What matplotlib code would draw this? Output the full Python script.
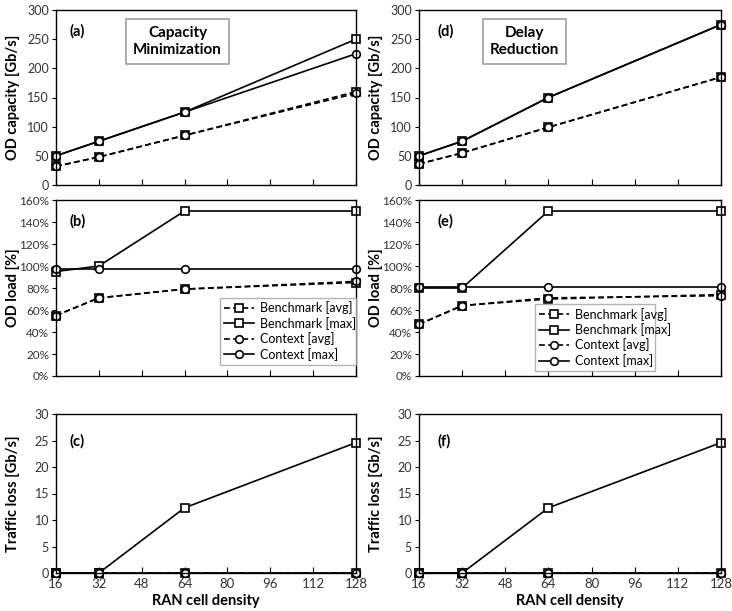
import numpy as np
import matplotlib
matplotlib.use("Agg")
import matplotlib.pyplot as plt
from matplotlib.ticker import FuncFormatter

plt.rcParams['font.family'] = ['Lato', 'DejaVu Sans']

density = [16, 32, 64, 128]
series_names = ["Benchmark [avg]", "Benchmark [max]", "Context [avg]", "Context [max]"]

# capacity minimization
cap_a = {
    "Benchmark [avg]": [32, 48, 85, 160],
    "Benchmark [max]": [50, 75, 125, 250],
    "Context [avg]": [32, 48, 85, 157],
    "Context [max]": [50, 75, 125, 225],
}
load_b = {
    "Benchmark [avg]": [55, 71, 79, 85],
    "Benchmark [max]": [95, 100, 150, 150],
    "Context [avg]": [55, 71, 79, 86],
    "Context [max]": [97, 97, 97, 97],
}
loss_c = {
    "Benchmark [avg]": [0, 0, 0, 0],
    "Benchmark [max]": [0, 0, 12.3, 24.6],
    "Context [avg]": [0, 0, 0, 0],
    "Context [max]": [0, 0, 0, 0],
}

# delay reduction
cap_d = {
    "Benchmark [avg]": [36, 55, 99, 185],
    "Benchmark [max]": [50, 75, 150, 275],
    "Context [avg]": [36, 55, 99, 185],
    "Context [max]": [50, 75, 150, 275],
}
load_e = {
    "Benchmark [avg]": [47, 64, 70, 74],
    "Benchmark [max]": [80, 80, 150, 150],
    "Context [avg]": [47, 64, 71, 73],
    "Context [max]": [81, 81, 81, 81],
}
loss_f = {
    "Benchmark [avg]": [0, 0, 0, 0],
    "Benchmark [max]": [0, 0, 12.3, 24.6],
    "Context [avg]": [0, 0, 0, 0],
    "Context [max]": [0, 0, 0, 0],
}

styles = {
    "Benchmark [avg]": dict(ls=(0, (3.5, 2)), marker="s"),
    "Benchmark [max]": dict(ls="-", marker="s"),
    "Context [avg]": dict(ls=(0, (3.5, 2)), marker="o"),
    "Context [max]": dict(ls="-", marker="o"),
}

fig = plt.figure(figsize=(7.32, 6.11), dpi=100)

W, H = 732.0, 611.0
def box(x0, x1, ytop, ybot):
    return [x0 / W, 1 - ybot / H, (x1 - x0) / W, (ybot - ytop) / H]

cols = [(56, 356), (419, 721)]
rows = [(10, 185), (200, 376), (414, 573)]

panels = [[cap_a, load_b, loss_c], [cap_d, load_e, loss_f]]
letters = [["(a)", "(b)", "(c)"], ["(d)", "(e)", "(f)"]]
ylims = [(0, 300), (0, 160), (0, 30)]
yticks = [np.arange(0, 301, 50), np.arange(0, 161, 20), np.arange(0, 31, 5)]
ylabels = ["OD capacity [Gb/s]", "OD load [%]", "Traffic loss [Gb/s]"]
titles = ["Capacity\nMinimization", "Delay\nReduction"]
title_x = [0.405, 0.35]
leg_anchor = [(0.547, 0.05, 0.453, 0.41), (0.384, 0.07, 0.397, 0.30)]

for c in range(2):
    for r in range(3):
        ax = fig.add_axes(box(cols[c][0], cols[c][1], rows[r][0], rows[r][1]))
        data = panels[c][r]
        for name in series_names:
            ax.plot(density, data[name], color="black", lw=1.2,
                    markersize=5.5, markerfacecolor="white",
                    markeredgecolor="black", markeredgewidth=1.2,
                    label=name, clip_on=False, **styles[name])
        ax.set_xlim(16, 128)
        ax.set_xticks(np.arange(16, 129, 16))
        ax.set_ylim(*ylims[r])
        ax.set_yticks(yticks[r])
        ax.tick_params(axis="x", direction="in", length=4, labelsize=9.5,
                       labelcolor="#333333")
        ax.tick_params(axis="y", direction="out", length=3,
                       labelsize=8.5 if r == 1 else 9,
                       pad=2, labelcolor="#333333")
        if r < 2:
            ax.tick_params(axis="x", labelbottom=False)
        else:
            ax.set_xlabel("RAN cell density", fontsize=10.5, fontweight="bold", labelpad=3)
        if r == 1:
            ax.yaxis.set_major_formatter(FuncFormatter(lambda v, p: "%d%%" % v))
        ax.set_ylabel(ylabels[r], fontsize=10.5, fontweight="bold")
        ax.yaxis.set_label_coords(-0.12, 0.5)
        for sp in ax.spines.values():
            sp.set_linewidth(1.0)
            sp.set_color("black")
        ax.text(0.045 if c == 0 else 0.06, 0.88 if r < 2 else 0.83, letters[c][r],
                transform=ax.transAxes, fontsize=10.5, fontweight="bold", va="center")
        if r == 0:
            ax.text(title_x[c], 0.82, titles[c], transform=ax.transAxes,
                    fontsize=11, fontweight="bold", ha="center", va="center",
                    linespacing=1.3,
                    bbox=dict(boxstyle="square,pad=0.45", fc="white", ec="#a6a6a6", lw=1.3))
        if r == 1:
            leg = ax.legend(loc="center", bbox_to_anchor=leg_anchor[c], mode="expand",
                            fontsize=9, frameon=True, fancybox=False, borderpad=0.3,
                            labelspacing=0.2, handlelength=2.4, handletextpad=0.5,
                            borderaxespad=0)
            leg.get_frame().set_edgecolor("#a0a0a0")
            leg.get_frame().set_linewidth(1.0)

fig.savefig("out.png", dpi=100)
